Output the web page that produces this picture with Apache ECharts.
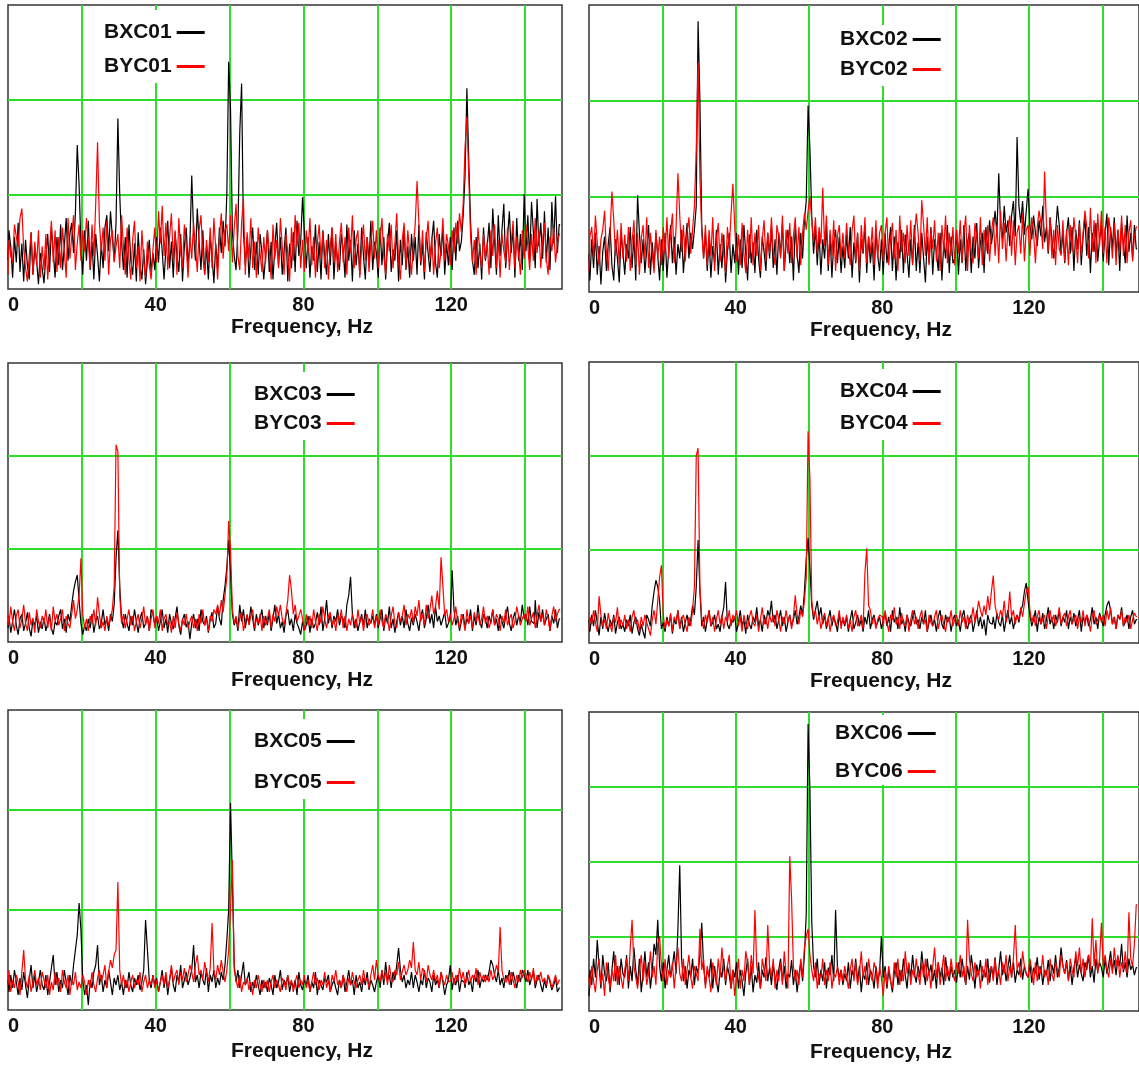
<!DOCTYPE html>
<html><head><meta charset="utf-8">
<script src="https://cdn.jsdelivr.net/npm/echarts@6/dist/echarts.min.js"></script>
<style>html,body{margin:0;padding:0;background:#fff;}#c{width:1139px;height:1067px;}</style>
</head><body><div id="c"></div>
<script>
// ---------------- DATA (amplitude in units: 100 = one horizontal grid division) ----------------
const FREQ_STEP = 0.5;               // Hz between samples, first sample at 0 Hz
const xTickLabels = [0, 40, 80, 120];
const axisTitle = 'Frequency, Hz';
const seriesNames = [['BXC01','BYC01'],['BXC02','BYC02'],['BXC03','BYC03'],['BXC04','BYC04'],['BXC05','BYC05'],['BXC06','BYC06']];

const bxc01 = [
30,62,45,12,55,28,70,18,48,8,52,25,10,60,15,42,30,5,38,22,
6,35,58,18,65,40,12,55,25,68,20,45,75,30,58,70,38,80,152,110,
45,15,62,30,72,20,50,10,58,35,8,48,22,65,78,40,82,55,30,70,
180,100,50,20,55,12,68,30,15,48,8,60,25,10,42,5,30,52,18,38,
20,55,28,65,40,10,42,72,22,50,12,60,35,18,58,8,45,65,25,48,
120,60,30,85,50,20,62,15,45,10,55,35,6,48,22,65,38,72,45,100,
240,190,60,35,20,62,165,217,60,25,55,12,42,65,20,50,15,58,38,10,
35,62,18,50,10,45,70,25,55,15,40,65,8,48,22,60,18,72,35,50,
97,60,22,55,12,45,30,68,18,50,10,62,35,15,58,25,65,10,48,30,
20,58,42,12,68,30,52,8,62,25,48,15,65,35,10,55,28,72,20,50,
38,12,65,25,55,10,48,70,18,42,30,62,8,52,25,65,20,45,12,58,
30,55,15,68,25,48,10,60,38,18,52,72,28,12,58,35,65,15,48,25,
55,20,65,30,72,40,50,78,120,212,136,70,30,15,55,22,48,10,65,30,
45,70,22,85,50,15,78,35,62,90,22,55,82,38,65,12,75,30,58,20,
100,40,78,30,92,60,22,95,45,70,32,82,28,65,20,92,48,98,38,68];
const byc01 = [
15,52,35,28,68,55,45,75,85,42,22,8,35,60,15,50,25,62,12,45,
20,58,10,42,72,28,62,18,55,22,65,40,12,75,32,55,78,20,48,68,
30,62,40,75,50,22,68,35,90,155,70,40,65,30,72,15,52,62,28,45,
58,22,78,45,15,65,32,10,52,72,22,45,8,62,30,12,50,25,10,42,
65,28,82,48,88,35,70,20,55,80,30,62,15,75,40,22,68,45,12,55,
32,70,45,18,62,78,35,15,52,28,65,22,75,42,10,55,80,32,62,68,
40,78,28,65,90,35,20,70,95,15,60,32,75,22,50,12,65,38,18,55,
28,62,40,10,68,32,52,22,75,45,15,58,38,8,65,30,78,45,70,22,
52,18,62,38,75,25,55,12,48,68,32,60,22,52,10,45,65,28,58,18,
50,70,28,55,15,65,38,78,22,52,62,12,45,68,30,55,18,48,72,32,
62,22,52,75,35,15,58,40,68,22,48,80,30,10,52,70,22,62,38,15,
45,68,114,70,28,62,18,52,72,32,55,15,48,65,22,40,75,30,58,45,
25,62,38,70,48,80,60,90,150,182,120,55,28,52,15,65,38,22,58,32,
50,15,62,35,68,22,52,12,58,40,28,65,20,48,72,22,55,38,15,62,
32,68,45,20,58,30,75,38,62,22,52,70,32,15,55,40,65,28,48,58];

const bxc02 = [
40,12,55,25,62,18,48,8,42,58,22,50,68,28,12,55,35,10,60,42,
18,50,35,68,25,60,12,101,62,30,55,20,45,70,18,52,25,62,38,12,
55,22,62,15,45,70,30,58,18,50,35,65,20,48,72,35,62,45,65,90,
283,200,70,35,62,22,55,15,48,30,65,18,50,25,60,10,42,62,20,50,
30,62,18,55,25,70,40,12,60,30,52,20,65,35,15,58,42,22,62,35,
68,25,55,18,62,38,72,22,50,65,30,58,12,70,40,20,62,35,75,95,
195,150,80,40,68,28,62,18,55,35,70,22,60,15,52,65,30,58,20,48,
25,60,35,68,15,52,30,62,10,55,40,70,20,58,30,52,12,65,38,22,
55,18,62,30,48,68,22,58,12,52,35,65,20,60,40,15,55,30,70,22,
52,20,62,35,10,58,30,68,18,55,42,22,62,12,52,35,70,20,58,30,
35,65,18,55,30,70,22,52,62,20,58,35,72,25,52,62,20,68,40,75,
50,65,85,60,124,70,55,90,62,75,48,80,95,58,162,90,72,95,60,85,
108,70,55,80,62,48,75,58,90,52,68,40,78,55,35,62,90,70,40,62,
30,62,78,40,68,22,65,45,75,28,58,78,38,68,20,62,42,72,32,55,
70,32,62,82,28,68,45,78,38,65,22,72,50,30,80,42,62,35,70,45];
const byc02 = [
22,58,68,35,80,52,28,55,65,85,40,22,62,105,75,38,65,28,72,35,
60,32,68,22,52,75,28,62,18,55,70,35,78,25,62,40,20,65,35,58,
28,68,40,78,35,62,82,30,68,124,80,42,70,32,62,78,40,65,90,150,
240,120,62,35,70,28,65,38,78,22,55,72,32,62,40,20,68,45,82,113,
68,32,60,28,72,40,20,65,35,78,28,62,38,70,22,55,75,32,62,40,
78,42,28,70,58,35,80,22,65,40,72,30,58,78,35,68,28,62,82,65,
85,100,75,52,78,40,68,50,109,48,80,28,65,38,75,22,58,70,35,62,
35,72,45,28,65,80,32,62,22,70,42,78,30,58,40,68,28,75,35,62,
70,32,62,78,28,55,72,35,65,22,80,42,62,30,70,38,75,28,58,82,
62,32,96,70,38,78,28,65,45,75,32,62,22,70,42,80,30,62,38,68,
28,65,40,75,32,62,80,22,70,42,30,72,58,35,78,28,65,42,70,32,
62,78,38,70,30,85,45,72,32,65,80,38,75,28,62,70,40,82,32,65,
70,38,78,62,30,68,85,72,45,126,72,42,78,35,65,28,70,45,38,75,
32,65,28,70,42,78,58,30,72,38,62,85,68,35,88,42,75,30,82,48,
85,40,68,30,78,62,35,72,28,65,42,80,38,70,30,62,75,32,58,68];

const bxc03 = [
15,28,10,22,35,18,8,25,30,12,20,32,15,6,24,18,28,10,22,14,
26,12,20,30,15,8,22,18,28,35,14,25,10,30,22,40,55,65,72,45,
20,8,18,12,25,15,30,10,22,28,14,20,35,18,25,12,30,22,40,90,
120,60,25,15,30,20,12,28,18,35,22,10,25,32,15,20,28,12,35,30,
18,28,12,22,35,15,25,10,30,20,14,26,38,18,8,24,30,16,22,3,
20,30,15,25,12,35,22,18,28,10,24,32,15,20,38,25,18,45,60,80,
110,75,30,18,25,12,40,22,35,15,28,20,38,25,12,30,18,26,35,15,
28,18,32,12,25,40,20,30,15,22,10,28,35,18,25,12,30,20,15,8,
22,12,18,28,10,25,15,20,32,18,38,12,25,45,20,30,15,28,22,35,
18,28,25,15,40,50,70,30,15,25,12,22,30,18,35,15,25,20,28,18,
30,15,25,35,12,28,20,38,15,25,10,22,32,18,28,15,35,20,12,26,
18,30,22,12,28,35,15,25,40,20,30,15,38,22,28,18,25,32,15,20,
25,77,35,18,28,12,22,30,15,25,20,35,12,28,18,40,22,15,30,25,
15,28,20,35,18,25,12,30,22,15,28,38,20,12,25,32,18,28,22,40,
25,30,18,38,22,20,45,15,32,22,35,18,25,30,12,28,20,35,15,25];
const byc03 = [
30,18,38,22,12,28,35,15,25,40,20,12,32,18,26,10,35,22,15,28,
20,35,15,28,12,38,22,30,18,25,35,12,28,20,15,30,45,25,35,50,
90,30,15,25,12,28,20,35,18,48,30,15,22,12,28,18,25,35,60,212,
205,50,20,30,15,25,35,18,28,12,22,30,15,25,38,18,28,12,25,35,
15,28,20,35,12,25,30,18,22,10,28,15,32,20,12,25,18,30,15,22,
28,15,25,12,30,20,35,18,25,12,28,22,35,30,40,28,45,32,50,70,
130,100,35,20,28,15,25,32,12,22,30,18,28,35,15,25,20,30,12,28,
18,25,35,15,30,22,38,28,40,25,18,30,45,72,55,30,40,22,28,35,
25,12,30,18,28,15,35,22,12,30,20,38,25,15,28,32,18,25,12,30,
22,35,15,28,12,25,18,30,22,15,35,20,28,12,25,30,18,22,35,15,
28,18,35,22,15,30,25,12,28,38,20,15,32,22,28,40,18,30,25,35,
20,38,28,45,22,30,18,40,25,35,50,30,38,55,35,91,60,28,35,22,
30,18,25,38,22,15,30,25,12,35,20,28,15,32,22,30,18,25,38,20,
28,15,22,35,18,30,25,12,28,20,35,18,25,30,15,22,38,28,18,25,
30,22,38,18,25,32,15,28,40,22,30,18,35,25,12,28,38,22,30,35];

const bxc04 = [
25,12,30,18,35,22,8,28,15,32,20,12,25,18,30,10,22,28,15,20,
12,25,18,30,10,22,28,15,8,20,12,5,30,25,18,40,55,67,60,45,
15,22,12,28,18,30,10,25,20,35,15,28,12,22,30,18,25,40,30,60,
110,55,18,28,12,25,35,18,22,30,15,20,12,28,38,65,20,15,25,22,
28,12,22,35,18,25,10,30,20,15,28,22,38,18,25,12,30,20,35,28,
45,22,30,15,25,35,18,28,12,22,30,18,25,35,20,28,40,30,55,90,
112,80,40,25,35,45,28,38,20,30,15,25,35,18,28,22,12,30,20,25,
18,28,12,25,35,15,22,30,18,25,12,28,20,35,15,25,30,18,22,28,
15,25,32,18,28,12,35,22,28,15,38,20,25,12,30,22,18,28,35,20,
25,15,28,20,35,12,22,30,18,25,12,28,35,20,15,30,22,28,12,25,
30,18,25,12,28,35,20,15,25,30,12,22,35,18,28,15,25,8,30,22,
20,28,15,32,22,18,30,12,25,35,20,28,15,25,30,22,35,40,55,64,
45,30,18,25,35,12,28,20,32,15,25,38,20,28,15,30,22,35,18,28,
22,35,15,28,20,32,18,25,35,12,28,22,30,18,25,38,20,28,15,32,
25,18,30,40,45,35,20,28,15,30,25,38,18,22,30,15,28,35,20,25];
const byc04 = [
15,28,20,35,22,12,50,30,18,25,15,32,20,12,28,22,38,15,25,18,
30,15,25,12,28,35,20,25,12,28,18,30,22,15,8,25,35,20,45,70,
83,30,15,25,18,32,12,28,22,35,15,25,30,20,12,28,18,35,60,200,
208,60,25,15,30,22,35,18,28,12,25,35,20,30,15,28,22,35,18,30,
25,35,18,28,12,30,20,15,28,35,22,18,30,12,25,38,20,28,15,30,
22,30,18,35,25,12,28,20,35,22,30,15,28,51,30,20,35,28,45,70,
226,175,45,28,35,20,30,15,25,32,18,28,12,25,30,18,22,35,15,28,
20,30,15,25,12,28,35,18,22,30,15,75,101,40,35,20,28,15,25,30,
28,18,35,22,12,30,25,38,20,28,15,32,22,18,30,12,25,35,20,28,
15,28,35,20,25,12,30,22,18,28,35,15,25,30,20,12,28,22,35,18,
25,30,18,35,22,28,15,30,20,25,38,22,30,45,35,28,40,30,50,35,
55,72,40,30,25,35,28,45,22,30,55,28,35,20,30,25,38,28,42,55,
60,35,22,30,18,28,35,20,25,30,15,28,35,22,30,18,25,38,20,28,
32,18,28,35,20,25,30,15,28,22,35,18,30,25,12,28,35,20,25,30,
22,30,18,35,25,38,20,28,15,30,25,35,18,28,22,30,15,25,32,28];

const bxc05 = [
30,18,35,22,40,28,15,32,20,38,25,12,30,45,22,35,18,28,40,25,
20,35,15,28,42,55,25,38,18,30,22,40,28,15,35,25,45,60,75,107,
80,30,15,25,5,30,22,38,45,65,25,35,18,30,22,40,28,15,32,25,
35,20,28,15,30,22,38,25,18,32,25,35,20,28,40,90,60,30,22,35,
25,32,18,28,40,22,35,15,30,42,25,18,35,28,45,22,30,38,25,32,
40,65,28,35,22,38,30,25,42,18,35,28,40,22,32,25,38,30,45,70,
100,207,130,45,28,40,22,35,48,25,30,38,18,28,22,35,25,15,30,22,
28,18,32,25,15,35,22,28,40,20,30,25,35,18,28,22,30,15,38,25,
20,30,25,35,18,28,22,38,15,30,25,20,32,28,35,18,25,30,22,15,
30,22,35,18,28,40,25,30,15,35,22,28,18,32,25,38,20,30,25,18,
28,35,22,40,25,48,30,35,22,38,30,45,62,40,28,35,22,30,25,38,
22,35,28,18,30,25,40,22,32,28,18,35,25,30,22,38,28,15,25,30,
45,20,32,25,35,18,30,28,22,38,25,30,18,35,28,40,22,32,28,35,
30,38,50,45,35,28,40,25,32,22,35,30,40,25,38,30,22,35,28,40,
35,28,40,25,32,38,22,30,35,25,18,30,22,35,28,20,25,32,18,22];
const byc05 = [
25,40,18,30,22,35,28,15,38,60,30,22,35,18,28,40,25,32,20,38,
30,22,35,15,28,20,38,25,32,18,40,28,22,35,15,30,25,38,20,28,
22,35,28,15,30,22,38,25,18,32,40,28,35,45,22,38,50,42,55,60,
128,40,25,35,22,30,18,28,35,22,30,25,38,18,28,35,22,30,25,35,
22,30,18,28,35,25,38,22,30,45,28,35,40,25,38,30,42,28,35,45,
38,28,45,55,35,40,30,48,38,28,42,87,40,30,45,35,50,38,28,40,
60,100,150,40,30,22,35,18,28,25,32,20,28,15,30,22,35,25,18,30,
22,30,18,28,35,22,30,25,18,32,28,20,35,25,30,18,28,35,22,30,
25,35,22,30,18,28,38,25,32,20,30,25,38,22,30,18,35,28,40,25,
30,22,35,28,18,32,25,38,28,22,30,35,25,40,28,32,22,35,45,30,
50,35,28,40,30,38,25,45,32,28,40,35,48,30,38,45,35,40,50,42,
68,40,35,48,30,42,38,28,45,35,30,40,28,35,22,38,30,25,35,28,
30,38,25,35,28,42,30,38,25,32,40,28,35,30,42,25,38,30,35,28,
35,28,40,30,35,45,38,83,40,30,28,35,25,38,30,22,35,28,40,32,
40,35,28,38,30,42,25,35,30,38,28,32,25,35,30,22,28,35,25,30];

const bxc06 = [
20,55,35,70,45,95,60,30,75,50,40,65,25,55,80,40,60,35,70,50,
45,75,30,60,40,85,55,35,70,25,50,80,45,65,30,55,90,75,122,60,
40,65,30,55,75,45,60,80,50,110,195,70,40,60,30,55,45,70,35,60,
50,75,118,60,35,55,45,70,30,60,40,25,55,45,70,35,60,48,30,55,
45,65,30,55,40,20,50,70,35,60,25,48,38,65,30,55,45,72,40,58,
35,62,45,28,55,70,40,60,30,50,45,68,35,55,25,48,65,40,75,130,
384,296,120,60,45,70,35,55,40,65,30,58,48,75,40,135,60,45,55,35,
50,40,65,30,55,45,70,38,60,25,50,42,65,35,55,48,30,60,40,52,
100,45,60,30,55,40,25,50,65,35,55,40,70,48,30,62,45,75,50,38,
60,45,80,55,35,70,48,62,40,55,30,65,45,58,35,72,50,40,60,45,
55,38,65,45,70,50,35,60,42,75,55,30,62,48,68,40,55,45,70,38,
60,45,72,35,55,80,48,62,40,58,75,45,65,38,55,48,70,42,60,50,
45,65,38,58,50,72,42,60,35,55,48,68,40,62,50,75,45,58,85,60,
50,68,42,60,35,58,72,45,62,50,40,65,55,75,45,60,38,70,52,65,
58,45,70,50,62,80,55,68,48,72,60,90,52,65,45,70,55,62,48,58];
const byc06 = [
45,30,60,40,25,55,70,35,50,20,65,45,30,55,40,75,35,60,45,30,
55,70,40,85,122,60,45,30,55,75,40,65,35,50,80,45,60,35,90,100,
60,40,70,35,55,45,65,30,60,85,50,40,70,35,55,75,45,30,60,50,
40,110,55,70,30,60,45,25,65,50,35,70,45,85,55,40,60,75,30,55,
20,45,70,30,55,40,80,65,35,75,50,135,60,45,30,70,55,40,115,60,
45,70,30,55,40,65,35,80,50,30,207,150,60,40,55,35,70,45,85,100,
110,75,55,40,65,30,50,45,70,35,55,40,65,30,50,45,60,35,55,40,
60,45,30,55,70,40,65,35,50,80,45,60,35,70,50,40,65,55,30,60,
45,20,55,35,60,40,30,65,45,70,35,55,40,80,50,65,35,55,45,70,
50,35,65,45,70,40,55,30,60,85,45,65,35,55,75,40,60,45,70,50,
40,65,50,75,45,60,35,122,70,50,40,65,45,55,30,60,45,70,35,55,
60,40,70,45,55,35,65,50,75,40,60,45,70,115,55,65,45,80,60,50,
45,70,55,35,65,40,60,50,75,45,55,35,70,50,40,65,55,45,75,60,
50,65,40,70,55,45,80,60,85,50,70,45,65,75,55,124,60,95,50,70,
118,60,75,55,45,70,50,85,60,75,45,65,55,80,50,132,70,60,90,142];

const blackSeries = [bxc01, bxc02, bxc03, bxc04, bxc05, bxc06];
const redSeries   = [byc01, byc02, byc03, byc04, byc05, byc06];
const yMaxes = [300, 300, 300, 300, 300, 400];

// ---------------- LAYOUT ----------------
const layout = [
  {grid:{left:8,  top:5,   width:554, height:284}, lg:{left:100, top:10,  gap:13, pad:[12,4,6,4]}, nameGap:28},
  {grid:{left:589,top:5,   width:555, height:287}, lg:{left:836, top:25,  gap:9,  pad:[4,4,6,4]},  nameGap:28},
  {grid:{left:8,  top:363, width:554, height:279}, lg:{left:250, top:372, gap:8,  pad:[12,4,6,4]}, nameGap:28},
  {grid:{left:589,top:362, width:555, height:281}, lg:{left:836, top:369, gap:11, pad:[12,4,6,4]}, nameGap:28},
  {grid:{left:8,  top:710, width:554, height:300}, lg:{left:250, top:719, gap:20, pad:[12,4,6,4]}, nameGap:31},
  {grid:{left:589,top:712, width:555, height:299}, lg:{left:831, top:715, gap:17, pad:[8,4,3,4]},  nameGap:31}
];

const FONT = '"Liberation Sans", Arial, Helvetica, sans-serif';
const GREEN = '#2ddc2d';

const grids = [], xAxes = [], yAxes = [], legends = [], series = [];
layout.forEach((p, i) => {
  grids.push(Object.assign({show:true, borderColor:'#333', borderWidth:1.5, backgroundColor:'#fff', containLabel:false}, p.grid));
  xAxes.push({
    type:'value', gridIndex:i, min:0, max:150, interval:20,
    axisLine:{show:false}, axisTick:{show:false},
    splitLine:{show:true, showMinLine:false, showMaxLine:false, lineStyle:{color:GREEN, width:2}},
    axisLabel:{formatter: v => xTickLabels.includes(v) ? String(v) : '', fontSize:20, fontWeight:'bold',
               color:'#111', fontFamily:FONT, margin:6, alignMinLabel:'left', showMaxLabel:false},
    name:axisTitle, nameLocation:'middle', nameGap:p.nameGap, nameMoveOverlap:false,
    nameTextStyle:{fontSize:21, fontWeight:'bold', color:'#111', fontFamily:FONT, padding:[0,0,0,34]}
  });
  yAxes.push({
    type:'value', gridIndex:i, min:0, max:yMaxes[i], interval:100,
    axisLine:{show:false}, axisTick:{show:false}, axisLabel:{show:false},
    splitLine:{show:true, showMinLine:false, showMaxLine:false, lineStyle:{color:GREEN, width:2}}
  });
  legends.push({
    orient:'vertical', left:p.lg.left, top:p.lg.top, itemGap:p.lg.gap, align:'right',
    icon:'rect', itemWidth:28, itemHeight:3, padding:p.lg.pad, backgroundColor:'#fff',
    selectedMode:false, data:seriesNames[i],
    textStyle:{fontSize:21, fontWeight:'bold', color:'#111', fontFamily:FONT}
  });
  const mk = (name, arr, color) => ({
    name, type:'line', xAxisIndex:i, yAxisIndex:i, showSymbol:false, symbol:'none', step:'middle',
    color, lineStyle:{color, width:1.2}, itemStyle:{color},
    data: arr.map((v, k) => [k * FREQ_STEP, v]), animation:false
  });
  series.push(mk(seriesNames[i][0], blackSeries[i], '#000000'));
  series.push(mk(seriesNames[i][1], redSeries[i], '#ff0000'));
});

const chart = echarts.init(document.getElementById('c'), null, {renderer:'canvas'});
chart.setOption({animation:false, backgroundColor:'#fff', grid:grids, xAxis:xAxes, yAxis:yAxes, legend:legends, series});
</script></body></html>
